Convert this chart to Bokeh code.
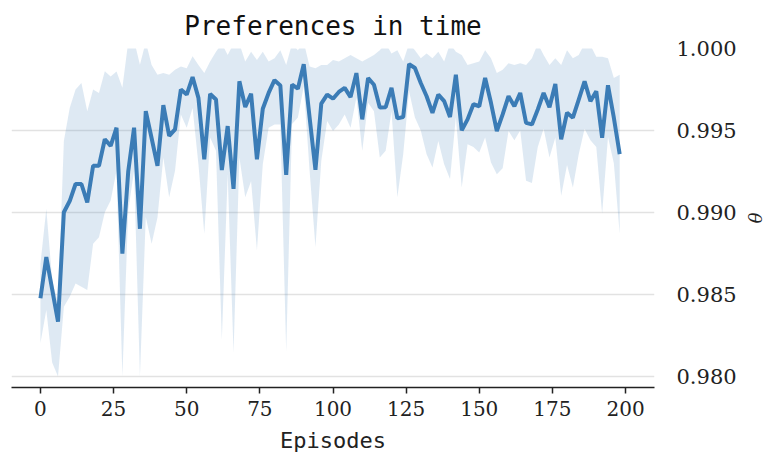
import numpy as np
from bokeh.plotting import figure
from bokeh.models import Range1d, FixedTicker, NumeralTickFormatter
from bokeh.embed import file_html
from bokeh.resources import INLINE

# ---------------- data ----------------
episodes = list(range(0, 200, 2))

theta_mean = [
    0.98477, 0.98729, 0.98532, 0.98335, 0.99002, 0.99070, 0.99174, 0.99174, 0.99062, 0.99285,
    0.99285, 0.99447, 0.99406, 0.99517, 0.98750, 0.99250, 0.99517, 0.98901, 0.99618, 0.99453,
    0.99285, 0.99655, 0.99467, 0.99507, 0.99750, 0.99719, 0.99826, 0.99699, 0.99325, 0.99723,
    0.99689, 0.99259, 0.99527, 0.99144, 0.99800, 0.99643, 0.99724, 0.99325, 0.99633, 0.99729,
    0.99807, 0.99775, 0.99229, 0.99780, 0.99755, 0.99904, 0.99580, 0.99260, 0.99664, 0.99719,
    0.99694, 0.99735, 0.99760, 0.99704, 0.99850, 0.99568, 0.99820, 0.99779, 0.99640, 0.99642,
    0.99760, 0.99574, 0.99582, 0.99905, 0.99881, 0.99790, 0.99709, 0.99608, 0.99719, 0.99679,
    0.99582, 0.99840, 0.99501, 0.99568, 0.99660, 0.99648, 0.99820, 0.99669, 0.99497, 0.99598,
    0.99709, 0.99648, 0.99729, 0.99547, 0.99537, 0.99628, 0.99729, 0.99642, 0.99784, 0.99447,
    0.99608, 0.99578, 0.99689, 0.99800, 0.99679, 0.99740, 0.99456, 0.99776, 0.99578, 0.99356,
]

theta_upper = [
    0.98689, 0.99022, 0.98588, 0.98448, 0.99436, 0.99638, 0.99750, 0.99790, 0.99618, 0.99750,
    0.99729, 0.99861, 0.99830, 0.99860, 0.99760, 1.00040, 1.00050, 0.99901, 1.00040, 0.99900,
    0.99840, 0.99850, 0.99840, 0.99870, 0.99891, 0.99880, 0.99952, 0.99900, 0.99850, 0.99921,
    0.99980, 1.00030, 0.99960, 1.00030, 1.00030, 0.99920, 0.99980, 0.99930, 0.99980, 0.99920,
    0.99940, 0.99990, 0.99900, 1.00030, 0.99990, 1.00040, 0.99890, 0.99880, 0.99900, 0.99900,
    0.99930, 0.99920, 0.99940, 0.99960, 0.99940, 0.99920, 0.99940, 0.99960, 0.99990, 1.00030,
    0.99970, 0.99990, 0.99920, 1.00030, 0.99990, 0.99940, 0.99970, 0.99940, 0.99980, 0.99920,
    1.00030, 0.99980, 0.99960, 0.99900, 0.99910, 0.99920, 0.99990, 0.99940, 0.99850, 0.99870,
    0.99910, 0.99900, 0.99910, 0.99900, 0.99940, 1.00030, 0.99960, 0.99900, 0.99940, 0.99900,
    0.99990, 0.99940, 0.99960, 1.00030, 1.00020, 0.99950, 0.99950, 0.99940, 0.99820, 0.99840,
]

theta_lower = [
    0.98204, 0.98406, 0.98085, 0.97900, 0.98426, 0.98487, 0.98568, 0.98547, 0.98527, 0.98810,
    0.98850, 0.99002, 0.99073, 0.99255, 0.97900, 0.99012, 0.99255, 0.97900, 0.98972, 0.98810,
    0.98970, 0.99335, 0.99093, 0.99255, 0.99598, 0.99517, 0.99638, 0.99295, 0.98871, 0.99457,
    0.99376, 0.98224, 0.99234, 0.98144, 0.99335, 0.99093, 0.99190, 0.98770, 0.99295, 0.99517,
    0.99537, 0.99537, 0.98153, 0.99540, 0.99580, 0.99770, 0.99255, 0.98790, 0.99315, 0.99558,
    0.99497, 0.99537, 0.99598, 0.99517, 0.99700, 0.99376, 0.99670, 0.99618, 0.99335, 0.99376,
    0.99618, 0.99093, 0.99356, 0.99740, 0.99580, 0.99500, 0.99356, 0.99275, 0.99436, 0.99295,
    0.99204, 0.99580, 0.99153, 0.99416, 0.99400, 0.99366, 0.99457, 0.99305, 0.99234, 0.99270,
    0.99497, 0.99440, 0.99500, 0.99194, 0.99180, 0.99400, 0.99510, 0.99335, 0.99457, 0.99103,
    0.99290, 0.99153, 0.99356, 0.99510, 0.99440, 0.99400, 0.98992, 0.99460, 0.99300, 0.98871,
]

x_ticks = [0, 25, 50, 75, 100, 125, 150, 175, 200]
y_ticks = [0.980, 0.985, 0.990, 0.995, 1.000]
y_limits = (0.980, 1.000)

# ---------------- figure ----------------
LINE_COLOR = "#3b7cb6"

p = figure(
    width=767, height=455,
    output_backend="svg", toolbar_location=None,
    x_range=Range1d(-9.9, 209.9),
    y_range=Range1d(y_limits[0] - 0.000667, y_limits[1]),
    y_axis_location="right",
    title="Preferences in time",
    min_border_left=11, min_border_right=112,
    min_border_top=47, min_border_bottom=67,
)
p.outline_line_color = None
p.background_fill_color = "white"
p.border_fill_color = "white"

p.title.text_font = "DejaVu Sans Mono"
p.title.text_font_size = "26px"
p.title.text_font_style = "normal"
p.title.text_color = "#111111"
p.title.align = "center"
p.title.standoff = 16

# band (clipped to the visible y limits like the original axes)
lower_clipped = np.maximum(np.array(theta_lower), y_limits[0])
p.varea(x=episodes, y1=lower_clipped, y2=theta_upper,
        fill_color=LINE_COLOR, fill_alpha=0.17)
p.line(episodes, theta_mean, line_color=LINE_COLOR, line_width=4)

# grid
p.xgrid.grid_line_color = None
p.ygrid.ticker = FixedTicker(ticks=y_ticks)
p.ygrid.grid_line_color = "#e2e2e2"
p.ygrid.grid_line_width = 1.5

# x axis
xa = p.xaxis[0]
xa.ticker = FixedTicker(ticks=x_ticks)
xa.axis_line_color = "#222222"
xa.axis_line_width = 1.5
xa.major_tick_line_color = "#222222"
xa.major_tick_line_width = 1.5
xa.major_tick_out = 6
xa.major_tick_in = 0
xa.minor_tick_line_color = None
xa.major_label_text_font = "DejaVu Serif"
xa.major_label_text_font_size = "20px"
xa.major_label_text_color = "#222222"
xa.major_label_standoff = 7
xa.axis_label = "Episodes"
xa.axis_label_text_font = "DejaVu Sans Mono"
xa.axis_label_text_font_style = "normal"
xa.axis_label_text_font_size = "22px"
xa.axis_label_text_color = "#222222"
xa.axis_label_standoff = 9

# y axis (right)
ya = p.yaxis[0]
ya.ticker = FixedTicker(ticks=y_ticks)
ya.formatter = NumeralTickFormatter(format="0.000")
ya.axis_line_color = None
ya.major_tick_line_color = None
ya.minor_tick_line_color = None
ya.major_tick_out = 0
ya.major_tick_in = 0
ya.major_label_standoff = 22
ya.major_label_text_font = "DejaVu Serif"
ya.major_label_text_font_size = "21px"
ya.major_label_text_color = "#222222"
ya.axis_label = "θ"
ya.axis_label_text_font = "DejaVu Serif"
ya.axis_label_text_font_style = "italic"
ya.axis_label_text_font_size = "18px"
ya.axis_label_text_color = "#222222"
ya.axis_label_standoff = 4

open("out.html", "w").write(file_html(p, INLINE))
